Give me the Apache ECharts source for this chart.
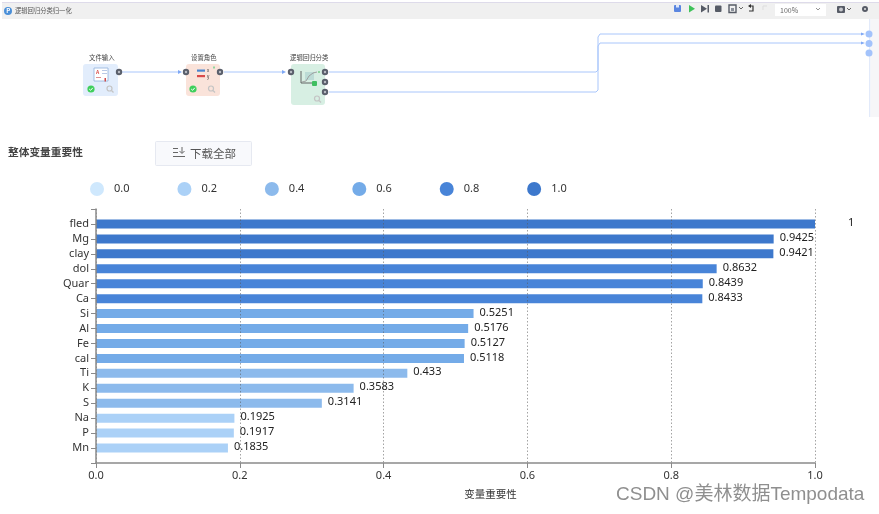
<!DOCTYPE html>
<html><head><meta charset="utf-8">
<style>html,body{margin:0;padding:0;background:#fff}#c{width:879px;height:514px}</style>
<script src="https://cdn.jsdelivr.net/npm/echarts@6/dist/echarts.min.js"></script>
</head><body><div id="c"></div>
<script>
const categories = ['fled','Mg','clay','dol','Quar','Ca','Si','Al','Fe','cal','Ti','K','S','Na','P','Mn'];
const values = [1,0.9425,0.9421,0.8632,0.8439,0.8433,0.5251,0.5176,0.5127,0.5118,0.433,0.3583,0.3141,0.1925,0.1917,0.1835];
const legendLevels = ['0.0','0.2','0.4','0.6','0.8','1.0'];
const levelColors = ['#cfe8fd','#abd1f7','#8cbaec','#74abe8','#4884d8','#3d78cc'];
const xTicks = [0,0.2,0.4,0.6,0.8,1];

const font = '"Noto Sans","Noto Sans CJK SC",sans-serif';
const cjk = '"Noto Sans CJK SC",sans-serif';
const yCats = [''].concat(categories, ['']);
const lineC = '#a9c6fb';
const series = legendLevels.map((name, li) => ({
  name, type:'bar', barWidth:9, barGap:'-100%', z:2,
  itemStyle:{color:levelColors[li]},
  data:[null].concat(values.map(v => {
    if (Math.round(v/0.2) !== li) return null;
    const item = {value:v};
    if (v === 1) item.label = {distance:33};
    return item;
  }), [null]),
  label:{show:true, position:'right', distance:6, offset:[0,-1], color:'#222', fontSize:11, fontFamily:font}
}));

const T = (x,y,text,size,color,extra) => ({type:'text',x,y,silent:true,style:Object.assign({text,fontSize:size,fontFamily:cjk,fill:color,verticalAlign:'middle'},extra||{})});
const R = (x,y,w,h,fill,r,extra) => ({type:'rect',shape:{x,y,width:w,height:h,r:r||0},silent:true,style:Object.assign({fill},extra||{})});
const C = (cx,cy,r,fill,extra) => ({type:'circle',shape:{cx,cy,r},silent:true,style:Object.assign({fill},extra||{})});
const L = (pts,color,w) => ({type:'polyline',shape:{points:pts},silent:true,style:{stroke:color||lineC,lineWidth:w||1,fill:null}});
const P = (pts,fill) => ({type:'polygon',shape:{points:pts},silent:true,style:{fill}});
const port = (x,y) => [C(x,y,3.2,'#5a5f6b'), C(x,y,1.2,'#b9bcc4')];
const mag = (x,y) => [C(x,y,2.5,null,{stroke:'#c4c4c4',lineWidth:1.2}), L([[x+2,y+2],[x+4,y+4]],'#c4c4c4',1.2)];
const ok = (x,y) => [C(x,y,3.6,'#3fcf5c'), L([[x-1.8,y],[x-.4,y+1.3],[x+1.8,y-1.2]],'#fff',1)];

const graphics = [].concat(
  [R(2,2,877,17,'#f0f0f0'), R(2,2,877,1,'#dedbea'),
   C(8,11,4,'#4a8fd8'), T(6.3,11,'P',6,'#fff',{fontWeight:'bold'}),
   T(15,10.5,'逻辑回归分类归一化',6.3,'#555'),
   // toolbar
   R(674,5,7,7,'#5b86e0',1), R(676,5,3,2.5,'#dfe8fb'),
   P([[689,5],[689,12.5],[695,8.7]],'#3fc25a'),
   P([[701,5],[701,12.5],[707,8.7]],'#565b66'), R(707.5,5,1.5,7.5,'#565b66'),
   R(715,5.5,6.5,6.5,'#565b66',1),
   R(729,5,7,7.5,null,0,{stroke:'#565b66',lineWidth:1.4}), R(731,8,3,3,'#8a8f99'),
   L([[739,7],[741,9],[743,7]],'#666',1),
   L([[749,6],[753,6],[753,11],[749,11]],'#333',1.2), P([[748,6],[751,4],[751,8]],'#333'),
   L([[767,6],[763,6],[763,10]],'#ddd',1),
   R(775,4,51,12,'#fff'), T(780,10.5,'100%',7,'#666'), L([[816,8],[818,10],[820,8]],'#888',.9),
   R(837,6,8,7,'#565b66',1), C(841,9.5,2,'#c7c9ce'), L([[847,8],[849,10],[851,8]],'#666',1),
   C(865,9,3,'#565b66'), C(865,9,1,'#e5e5e5'),
   // panel strip
   R(869,19,1.5,98,'#e2eafa'), R(870.5,19,8.5,98,'#f6f6f8'),
   // nodes
   R(83,64,35,32,'#e2edfc',3), R(186,64,34,32,'#fae3da',3), R(291,64,34,41,'#d7efe3',3),
   T(89,58,'文件输入',6.4,'#444'), T(191,58,'设置角色',6.4,'#444'), T(290,58,'逻辑回归分类',6.4,'#444'),
   // node 1 icon
   R(94,68,14,13,'#fff',0,{stroke:'#8fb0dc',lineWidth:.8}), T(96,72,'A',5,'#d9534f',{fontWeight:'bold'}),
   R(102,70,5,1,'#b9c9e5'), R(102,73,5,1,'#b9c9e5'), R(96,77,5,1,'#e09090'), R(104.5,78,1.5,3.5,'#cf4a4a'),
   // node 2 icon
   R(197,69.5,8,2.2,'#4a86d0'), R(197,75,8,2.2,'#d94a4a'), T(207,70.5,'x',4.5,'#333'), T(207,76.5,'y',4.5,'#333'),
   R(213,66.5,2,2,'#8ed6a0'),
   // node 3 icon
   R(305,72,9,8,'#bcdcd6'), L([[301,71],[301,83],[314,83]],'#555',.9),
   L([[302,82],[306,81],[309,76],[313,73],[317,72]],'#999',.9), R(312,81,5,5,'#3fbf60',1), R(318,71,2,2,'#8ed6a0'),
   // connectors
   L([[122,72],[180,72]]), P([[178,70],[178,74],[182,72]],'#7fa8f5'),
   L([[224,72],[283,72]]), P([[282,70],[282,74],[286,72]],'#7fa8f5'),
   L([[329,72],[596,72],[598,70],[598,37],[600,34],[862,34]]),
   L([[329,92],[596,92],[598,90],[598,46],[600,43],[862,43]]),
   P([[861,32.5],[861,35.5],[865,34]],'#7fa8f5'), P([[861,41.5],[861,44.5],[865,43]],'#7fa8f5'),
   C(869,34,3.5,'#a3c3fb'), C(869,43.5,3.5,'#a3c3fb'), C(869,53,3.5,'#a3c3fb'),
   // heading and button
   T(8,152,'整体变量重要性',10.7,'#444',{fontWeight:'bold'}),
   R(155.5,141.5,96,24,'#f8f9fc',1,{stroke:'#e6e9f1',lineWidth:1}),
   R(173,148,5,1,'#666'), R(173,152,5,1,'#666'), R(173,156,12,1,'#666'),
   L([[182,147],[182,153]],'#666',1), L([[179.5,151],[182,153.5],[184.5,151]],'#666',1),
   T(190,153.5,'下载全部',11.5,'#555'),
   // watermark
   T(616,494.5,'CSDN @美林数据Tempodata',19,'#8f8f8f',{fontFamily:'"Liberation Sans","Noto Sans CJK SC",sans-serif'})],
  port(119,72), port(186,72), port(220,72), port(291,72), port(325,72), port(325,82), port(325,92),
  ok(91,89), ok(193,89), mag(109.5,88.5), mag(211,88.5), mag(317,98.5)
);

const chart = echarts.init(document.getElementById('c'), null, {renderer:'canvas'});
chart.setOption({
  animation:false,
  backgroundColor:'#fff',
  legend:{left:85, top:177, icon:'circle', itemWidth:14, itemHeight:14, itemGap:47.9, data:legendLevels,
    textStyle:{fontSize:11, color:'#333', fontFamily:font, padding:[0,0,0,5]}},
  grid:{left:96, right:64, top:209, height:254, containLabel:false},
  xAxis:{type:'value', min:0, max:1, interval:0.2, z:5,
    name:'变量重要性', nameLocation:'middle', nameGap:26,
    nameTextStyle:{fontSize:10.5, color:'#333', fontFamily:cjk, padding:[0,0,0,70]},
    axisLine:{show:true, lineStyle:{color:'#8a8a8a', width:1.5}},
    axisTick:{show:true, length:5, lineStyle:{color:'#8a8a8a'}},
    axisLabel:{fontSize:11, color:'#333', fontFamily:font, margin:7, formatter:v=>xTicks.includes(+v.toFixed(1))?v.toFixed(1):''},
    splitLine:{show:true, lineStyle:{color:'rgba(90,90,90,.55)', type:[1.5,2], width:1}}},
  yAxis:{type:'category', inverse:true, boundaryGap:false, data:yCats, z:5,
    axisLine:{show:true, lineStyle:{color:'#8a8a8a', width:1.5}},
    axisTick:{show:true, length:5, alignWithLabel:true, lineStyle:{color:'#8a8a8a'}},
    axisLabel:{fontSize:11, color:'#333', fontFamily:font, margin:7, interval:0},
    splitLine:{show:false}},
  series,
  graphic:{elements:graphics}
});
</script></body></html>
